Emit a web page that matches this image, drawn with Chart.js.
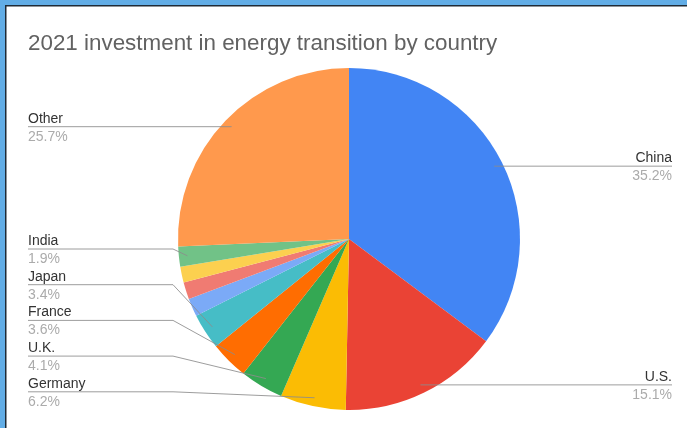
<!DOCTYPE html>
<html><head><meta charset="utf-8">
<script src="https://cdn.jsdelivr.net/npm/chart.js@4.4.0/dist/chart.umd.min.js"></script>
<style>html,body{margin:0;padding:0;background:#fff;}#wrap{width:687px;height:428px;position:relative}canvas{display:block}</style>
</head><body><div id="wrap"><canvas id="c" width="687" height="428"></canvas></div>
<script>
// ---- data ----
const categories = ['China', 'U.S.', 'Germany', 'U.K.', 'France', 'Japan', '', '', '', 'India', 'Other'];
const shares = [35.2, 15.1, 6.2, 4.1, 3.6, 3.4, 1.7, 1.6, 1.5, 1.9, 25.7];
const sliceColors = ['#4285F4', '#EA4335', '#FBBC04', '#34A853', '#FF6D01', '#46BDC6', '#7BAAF7', '#F07B72', '#FCD04F', '#71C287', '#FF994D'];
const titleText = '2021 investment in energy transition by country';

// ---- layout constants ----
const FONT = '"Liberation Sans", Arial, sans-serif';
const LEFT_X = 28, RIGHT_X = 672, BEND_X = 173;
const STACK_TOP = 249, STACK_GAP = 35.7;

const decor = {
  id: 'decor',
  beforeDraw(chart) {
    const ctx = chart.ctx, W = chart.width, H = chart.height;
    ctx.save();
    ctx.fillStyle = '#ffffff';
    ctx.fillRect(0, 0, W, H);
    ctx.fillStyle = '#62ade6';
    ctx.fillRect(0, 0, W, 5);
    ctx.fillRect(0, 0, 5, H);
    ctx.fillStyle = '#1f2b36';
    ctx.fillRect(5, 5, W - 5, 1.5);
    ctx.fillRect(5, 5, 1.5, H - 5);
    ctx.fillStyle = '#626262';
    ctx.font = '22.4px ' + FONT;
    ctx.textBaseline = 'alphabetic';
    ctx.textAlign = 'left';
    ctx.fillText(titleText, 28, 50);
    ctx.restore();
  },
  afterDatasetsDraw(chart) {
    const ctx = chart.ctx;
    const meta = chart.getDatasetMeta(0);
    const ds = chart.data.datasets[0].data;
    const total = ds.reduce((a, b) => a + b, 0);
    const items = [];
    meta.data.forEach((arc, i) => {
      const name = chart.data.labels[i];
      if (!name) return;
      const p = arc.getProps(['x', 'y', 'startAngle', 'endAngle', 'outerRadius'], true);
      const mid = (p.startAngle + p.endAngle) / 2;
      const r = p.outerRadius * 0.95;
      const px = p.x + Math.cos(mid) * r, py = p.y + Math.sin(mid) * r;
      items.push({ name, pct: (ds[i] / total * 100).toFixed(1) + '%', px, py, cx: p.x, cy: p.y, mid });
    });
    // stacked lower-left labels
    const stacked = items.filter(o => o.px < o.cx && o.py > o.cy).sort((a, b) => a.py - b.py);
    stacked.forEach((o, k) => { o.ly = STACK_TOP + k * STACK_GAP; o.stack = true; });
    ctx.save();
    items.forEach(o => {
      const left = o.px < o.cx;
      const ly = o.stack ? o.ly : o.py;
      ctx.strokeStyle = 'rgba(140,140,140,0.85)';
      ctx.lineWidth = 1;
      ctx.beginPath();
      if (left) {
        ctx.moveTo(LEFT_X, ly);
        if (o.stack) { ctx.lineTo(BEND_X, ly); ctx.lineTo(o.px, o.py); }
        else ctx.lineTo(o.px, o.py);
      } else {
        ctx.moveTo(RIGHT_X, ly);
        ctx.lineTo(o.px, o.py);
      }
      ctx.stroke();
      ctx.font = '14px ' + FONT;
      ctx.textAlign = left ? 'left' : 'right';
      const tx = left ? LEFT_X : RIGHT_X;
      ctx.fillStyle = '#333333';
      ctx.fillText(o.name, tx, ly - 4);
      ctx.fillStyle = '#ababab';
      ctx.fillText(o.pct, tx, ly + 14);
    });
    ctx.restore();
  }
};

new Chart(document.getElementById('c'), {
  type: 'pie',
  data: {
    labels: categories,
    datasets: [{ data: shares, backgroundColor: sliceColors, borderWidth: 0, hoverOffset: 0 }]
  },
  options: {
    responsive: false,
    animation: false,
    devicePixelRatio: 1,
    layout: { padding: { left: 178, right: 167, top: 68, bottom: 18 } },
    plugins: { legend: { display: false }, tooltip: { enabled: false }, title: { display: false } }
  },
  plugins: [decor]
});
</script>
</body></html>
